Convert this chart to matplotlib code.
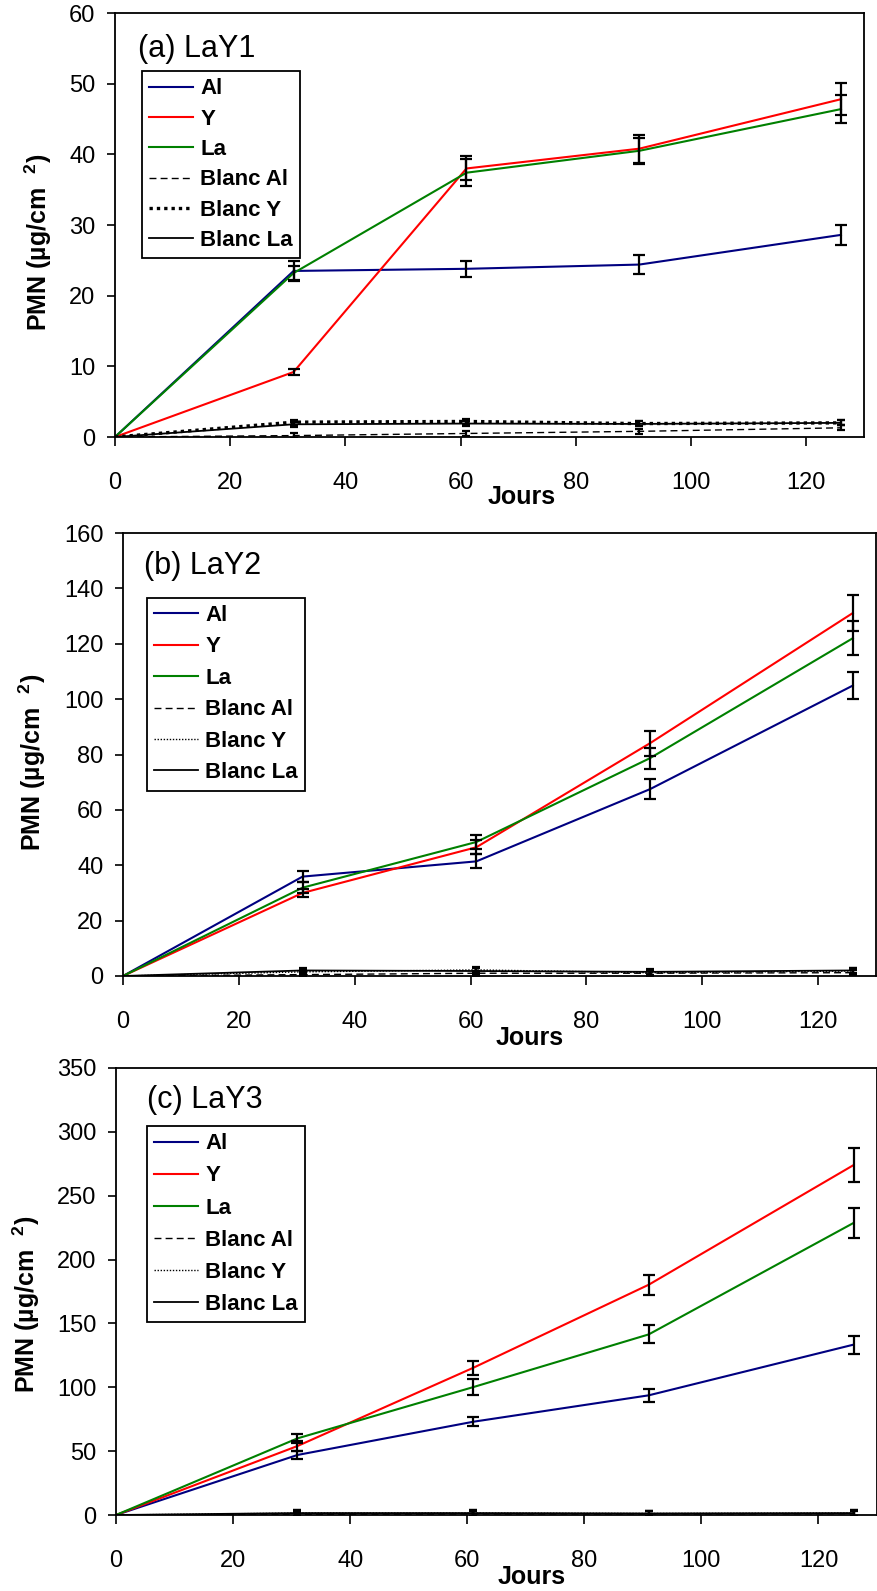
import numpy as np
import matplotlib
matplotlib.use("Agg")
import matplotlib.pyplot as plt

plt.rcParams['font.family'] = ['Liberation Sans', 'DejaVu Sans']
plt.rcParams['mathtext.fontset'] = 'custom'
plt.rcParams['mathtext.rm'] = 'Liberation Sans'
plt.rcParams['mathtext.bf'] = 'Liberation Sans:bold'

# jours de prelevement
jours = [0, 31, 61, 91, 126]

# (a) LaY1
a_al = [0, 23.5, 23.8, 24.4, 28.6]
a_y = [0, 9.2, 38.0, 40.8, 47.8]
a_la = [0, 23.2, 37.4, 40.5, 46.4]
a_al_err = [0, 1.4, 1.15, 1.3, 1.4]
a_y_err = [0, 0.4, 1.7, 2.0, 2.3]
a_la_err = [0, 1.0, 1.9, 1.8, 2.0]
a_bal = [0, 0.2, 0.5, 0.8, 1.3]
a_by = [0, 2.1, 2.2, 1.9, 2.0]
a_bla = [0, 1.8, 1.9, 1.85, 2.0]

# (b) LaY2
b_al = [0, 35.9, 41.4, 67.5, 104.9]
b_y = [0, 30.0, 46.5, 84.1, 131.1]
b_la = [0, 31.9, 48.4, 78.7, 122.0]
b_al_err = [0, 2.0, 2.5, 3.6, 5.0]
b_y_err = [0, 1.5, 2.5, 4.5, 6.5]
b_la_err = [0, 2.0, 2.5, 3.8, 6.2]
b_bal = [0, 0.5, 1.0, 1.0, 1.2]
b_by = [0, 1.5, 2.2, 1.2, 1.8]
b_bla = [0, 2.0, 1.8, 1.5, 2.0]

# (c) LaY3
c_al = [0, 47, 73, 93.7, 133.4]
c_y = [0, 54, 115.2, 180.3, 274]
c_la = [0, 60, 100.1, 141.4, 228.7]
c_al_err = [0, 3.5, 3.5, 5, 7]
c_y_err = [0, 4, 5.5, 8, 13]
c_la_err = [0, 3.5, 6, 7, 12]
c_bal = [0, 0.5, 0.8, 0.8, 1.0]
c_by = [0, 1.5, 1.5, 1.2, 1.5]
c_bla = [0, 1.5, 1.5, 1.2, 1.5]

noms = ['Al', 'Y', 'La', 'Blanc Al', 'Blanc Y', 'Blanc La']
titres = ['(a) LaY1', '(b) LaY2', '(c) LaY3']
ymax = [60, 160, 350]
ystep = [10, 20, 50]

W, H = 878, 1591
fig = plt.figure(figsize=(W / 100, H / 100), dpi=100)


def rect(l, r, t, b):
	return [l / W, (H - b) / H, (r - l) / W, (b - t) / H]


# pixel boxes of the three panels (left, right, top, bottom)
boites = [(115, 864, 13, 437), (123, 876, 533, 976), (116, 877, 1068, 1515)]
legendes = [(141.7, 71), (146.7, 597.7), (146.7, 1126)]
espacement = [0.42, 0.47, 0.5]
pos_titres = [(138, 57), (144, 574), (146.7, 1108)]
pos_ylab = [(38, 242), (32, 762), (26, 1304)]
pos_xlab = [(522, 497), (530, 1038), (532, 1577)]
dotted_lw = [2.4, 1.0, 1.0]

donnees = [
	(a_al, a_y, a_la, a_al_err, a_y_err, a_la_err, a_bal, a_by, a_bla),
	(b_al, b_y, b_la, b_al_err, b_y_err, b_la_err, b_bal, b_by, b_bla),
	(c_al, c_y, c_la, c_al_err, c_y_err, c_la_err, c_bal, c_by, c_bla),
]

for k in range(3):
	l, r, t, b = boites[k]
	ax = fig.add_axes(rect(l, r, t, b))
	al, y, la, al_e, y_e, la_e, bal, by, bla = donnees[k]
	wpx = r - l
	hpx = b - t

	ax.plot(jours, al, color='#000080', lw=1.5, label=noms[0])
	ax.plot(jours, y, color='#ff0000', lw=1.5, label=noms[1])
	ax.plot(jours, la, color='#008000', lw=1.5, label=noms[2])
	ax.plot(jours, bal, color='black', lw=1.0, ls=(0, (5, 3)), label=noms[3])
	ax.plot(jours, by, color='black', lw=dotted_lw[k], ls=(0, (1, 1.2)), label=noms[4])
	ax.plot(jours, bla, color='black', lw=1.3, label=noms[5])

	for serie, err in [(al, al_e), (y, y_e), (la, la_e)]:
		ax.errorbar(jours[1:], serie[1:], yerr=err[1:], fmt='none', ecolor='black',
					elinewidth=1.6, capsize=4, capthick=1.6)
	for serie in [bal, by, bla]:
		ax.errorbar(jours[1:], serie[1:], yerr=0.006 * ymax[k], fmt='none', ecolor='black',
					elinewidth=1.6, capsize=3, capthick=1.6)

	ax.set_xlim(0, 130)
	ax.set_ylim(0, ymax[k])
	ax.set_xticks(np.arange(0, 121, 20))
	ax.set_yticks(np.arange(0, ymax[k] + 1, ystep[k]))
	ax.tick_params(axis='x', direction='out', length=6.5, width=1.2, labelsize=17, pad=19)
	ax.tick_params(axis='y', direction='out', length=6, width=1.2, labelsize=17, pad=8)
	for s in ax.spines.values():
		s.set_linewidth(1.3)
		s.set_color('black')

	lx, ly = legendes[k]
	leg = ax.legend(loc='upper left', bbox_to_anchor=((lx - l) / wpx, (b - ly) / hpx),
					borderaxespad=0, frameon=True, fancybox=False, framealpha=1,
					edgecolor='black', prop={'weight': 'bold', 'size': 16},
					handlelength=2.0, handletextpad=0.3, labelspacing=espacement[k],
					borderpad=0.33)
	leg.get_frame().set_linewidth(1.3)

	tx, ty = pos_titres[k]
	ax.text((tx - l) / wpx, (b - ty) / hpx, titres[k], transform=ax.transAxes,
			fontsize=22, ha='left', va='baseline')

	yx, yy = pos_ylab[k]
	ax.set_ylabel(r'PMN (µg/cm  $^{\mathbf{2}}$)', fontsize=18, fontweight='bold', va='center')
	ax.yaxis.set_label_coords((yx - l) / wpx, (b - yy) / hpx)

	xx, xy = pos_xlab[k]
	ax.set_xlabel('Jours', fontsize=18, fontweight='bold', va='center')
	ax.xaxis.set_label_coords((xx - l) / wpx, (b - xy) / hpx)

fig.savefig('out.png', dpi=100)
